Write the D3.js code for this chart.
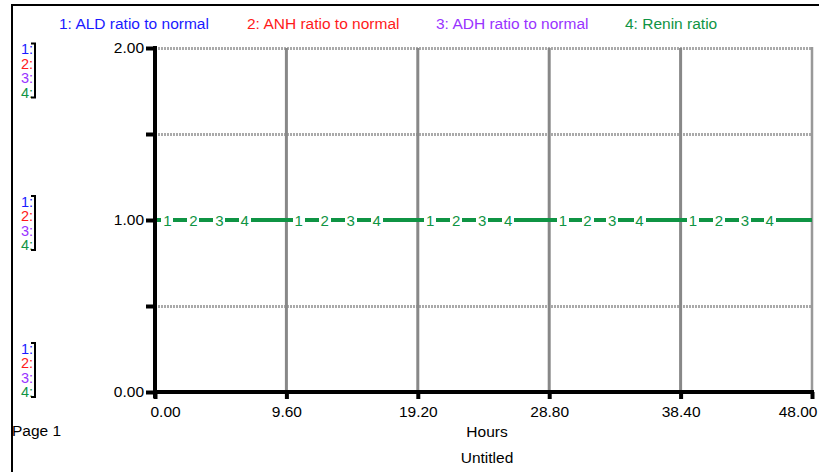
<!DOCTYPE html>
<html>
<head>
<meta charset="utf-8">
<script src="https://cdn.jsdelivr.net/npm/d3@7/dist/d3.min.js"></script>
<style>
  body { margin: 0; background: #fff; }
  svg { display: block; font-family: "Liberation Sans", Arial, sans-serif; }
</style>
</head>
<body>
<div id="chart"></div>
<script>
// series names and colours as in the legend
const seriesNames = ["1: ALD ratio to normal", "2: ANH ratio to normal", "3: ADH ratio to normal", "4: Renin ratio"];
const seriesColors = ["#1a1aff", "#ff1a1a", "#9933ff", "#0f9444"];

// time axis (hours) and values of each series, all flat at 1.0
const hours = [0, 4.8, 9.6, 14.4, 19.2, 24, 28.8, 33.6, 38.4, 43.2, 48];
const aldRatio = [1, 1, 1, 1, 1, 1, 1, 1, 1, 1, 1];
const anhRatio = [1, 1, 1, 1, 1, 1, 1, 1, 1, 1, 1];
const adhRatio = [1, 1, 1, 1, 1, 1, 1, 1, 1, 1, 1];
const reninRatio = [1, 1, 1, 1, 1, 1, 1, 1, 1, 1, 1];
const seriesValues = [aldRatio, anhRatio, adhRatio, reninRatio];

// where the curve number labels sit along the line (hours)
const labelHours1 = [0.9, 10.5, 20.1, 29.8, 39.3];
const labelHours2 = [2.8, 12.4, 22.0, 31.6, 41.2];
const labelHours3 = [4.7, 14.3, 23.9, 33.4, 43.1];
const labelHours4 = [6.55, 16.2, 25.8, 35.4, 44.9];
const labelHours = [labelHours1, labelHours2, labelHours3, labelHours4];

const xTicks = [0, 9.6, 19.2, 28.8, 38.4, 48];
const yTicks = [0, 0.5, 1, 1.5, 2];
const yLabelTicks = [0, 1, 2];

const W = 819, H = 472;
const plot = {left: 155, right: 812, top: 48, bottom: 392};
const fontSize = 15.5;

const svg = d3.select("#chart").append("svg")
    .attr("width", W)
    .attr("height", H);

const x = d3.scaleLinear().domain([0, 48]).range([plot.left, plot.right]);
const y = d3.scaleLinear().domain([0, 2]).range([plot.bottom, plot.top]);

// page frame
svg.append("line").attr("x1", 12).attr("x2", W).attr("y1", 5).attr("y2", 5)
    .attr("stroke", "#000").attr("stroke-width", 2);
svg.append("line").attr("x1", 12).attr("x2", 12).attr("y1", 4).attr("y2", H)
    .attr("stroke", "#000").attr("stroke-width", 2);

// legend
svg.selectAll(".legend")
    .data(seriesNames)
    .enter()
    .append("text")
    .attr("x", (d, i) => [59, 247, 436, 625][i])
    .attr("y", 29)
    .attr("font-size", fontSize)
    .attr("fill", (d, i) => seriesColors[i])
    .text(d => d);

// horizontal grid
svg.append("g")
    .selectAll("line")
    .data([0.5, 1.5, 2])
    .enter()
    .append("line")
    .attr("x1", plot.left)
    .attr("x2", plot.right)
    .attr("y1", d => y(d) + 0.5)
    .attr("y2", d => y(d) + 0.5)
    .attr("stroke", "#aaaaaa")
    .attr("stroke-width", 3)
    .attr("stroke-dasharray", "2,1");

// vertical grid
svg.append("g")
    .selectAll("line")
    .data(xTicks.slice(1, -1))
    .enter()
    .append("line")
    .attr("x1", d => x(d))
    .attr("x2", d => x(d))
    .attr("y1", plot.top)
    .attr("y2", plot.bottom)
    .attr("stroke", "#888888")
    .attr("stroke-width", 3);

// right edge
svg.append("line")
    .attr("x1", x(48)).attr("x2", x(48))
    .attr("y1", plot.top - 1).attr("y2", plot.bottom)
    .attr("stroke", "#999999")
    .attr("stroke-width", 2.5);

// series lines, drawn in order so the last sits on top
const line = d3.line()
    .x(d => x(d[0]))
    .y(d => y(d[1]));

seriesValues.forEach((vals, i) => {
    svg.append("path")
        .datum(hours.map((h, j) => [h, vals[j]]))
        .attr("d", line)
        .attr("fill", "none")
        .attr("stroke", seriesColors[i])
        .attr("stroke-width", 4)
        .attr("shape-rendering", "crispEdges");
});

// curve number labels
const labelColor = seriesColors[3];
labelHours.forEach((hs, i) => {
    const g = svg.append("g");
    hs.forEach(h => {
        const v = seriesValues[i][0];
        g.append("rect")
            .attr("x", Math.round(x(h)) - 6)
            .attr("y", y(v) - 7)
            .attr("width", 12)
            .attr("height", 14)
            .attr("fill", "#fff");
        g.append("text")
            .attr("x", x(h))
            .attr("y", y(v) + 5.5)
            .attr("text-anchor", "middle")
            .attr("font-size", 15)
            .attr("fill", labelColor)
            .text(i + 1);
    });
});

// y axis
const yAxis = svg.append("g")
    .attr("transform", "translate(" + plot.left + ",0)")
    .call(d3.axisLeft(y).tickValues(yTicks).tickSize(9).tickPadding(2)
        .tickFormat(d => yLabelTicks.includes(d) ? d3.format(".2f")(d) : ""));
yAxis.select(".domain").remove();
yAxis.selectAll(".tick line").attr("stroke", "#000").attr("stroke-width", 4);
yAxis.selectAll(".tick text").attr("font-size", fontSize).attr("fill", "#000")
    .attr("font-family", "Liberation Sans, Arial, sans-serif");
svg.append("line")
    .attr("x1", plot.left).attr("x2", plot.left)
    .attr("y1", plot.top - 2).attr("y2", plot.bottom + 6)
    .attr("stroke", "#000").attr("stroke-width", 4);

// x axis
const xAxis = svg.append("g")
    .attr("transform", "translate(0," + plot.bottom + ")")
    .call(d3.axisBottom(x).tickValues(xTicks).tickSize(7).tickPadding(7)
        .tickFormat(d3.format(".2f")));
xAxis.select(".domain").remove();
xAxis.selectAll(".tick line").attr("stroke", "#000").attr("stroke-width", 4);
xAxis.selectAll(".tick text").attr("font-size", fontSize).attr("fill", "#000")
    .attr("font-family", "Liberation Sans, Arial, sans-serif")
    .attr("text-anchor", (d, i) => i === 0 ? "start" : (i === xTicks.length - 1 ? "end" : "middle"))
    .attr("dx", (d, i) => i === 0 ? -5 : (i === xTicks.length - 1 ? 5 : 0));
svg.append("line")
    .attr("x1", plot.left - 2).attr("x2", plot.right + 2)
    .attr("y1", plot.bottom).attr("y2", plot.bottom)
    .attr("stroke", "#000").attr("stroke-width", 4);

// axis titles
svg.append("text").attr("x", 487).attr("y", 437).attr("text-anchor", "middle")
    .attr("font-size", fontSize).text("Hours");
svg.append("text").attr("x", 487).attr("y", 463).attr("text-anchor", "middle")
    .attr("font-size", fontSize).text("Untitled");
svg.append("text").attr("x", 12).attr("y", 436)
    .attr("font-size", fontSize).text("Page 1");

// scale brackets on the left
const bracketTops = [42.5, 195, 342];
bracketTops.forEach(top => {
    const g = svg.append("g");
    seriesNames.forEach((name, i) => {
        g.append("text")
            .attr("x", 33)
            .attr("y", top + 11.5 + i * 14.6)
            .attr("text-anchor", "end")
            .attr("font-size", 14.5)
            .attr("fill", seriesColors[i])
            .text((i + 1) + ":");
    });
    g.append("path")
        .attr("d", "M31," + (top + 1) + "H35V" + (top + 55) + "H31")
        .attr("fill", "none")
        .attr("stroke", "#000")
        .attr("stroke-width", 2);
});
</script>
</body>
</html>
